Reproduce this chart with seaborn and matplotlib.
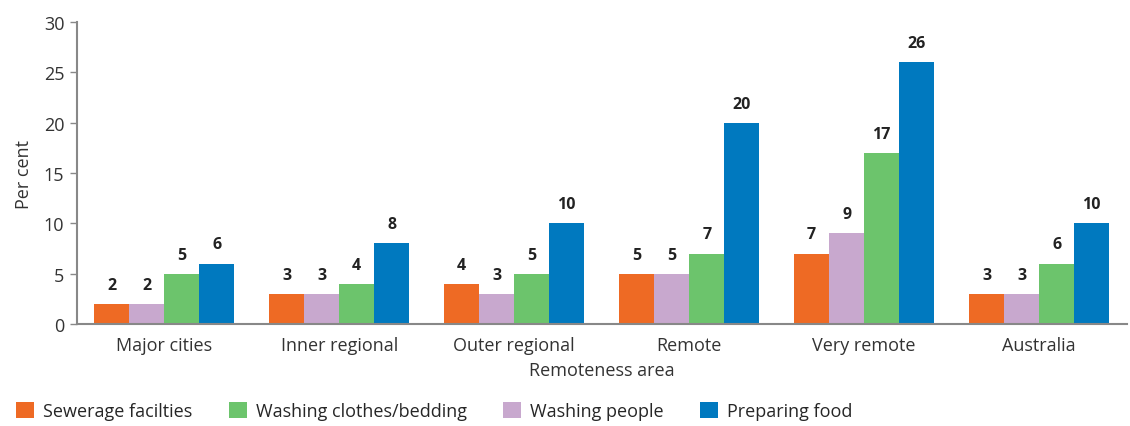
import pandas as pd
import matplotlib
matplotlib.use("Agg")
import matplotlib.pyplot as plt
import seaborn as sns
from matplotlib.patches import Patch

# -----------------------------
# DATA
# -----------------------------
areas = ["Major cities", "Inner regional", "Outer regional", "Remote", "Very remote", "Australia"]
sewerage = [2, 3, 4, 5, 7, 3]
washing_people = [2, 3, 3, 5, 9, 3]
washing_clothes = [5, 4, 5, 7, 17, 6]
preparing_food = [6, 8, 10, 20, 26, 10]

series_names = ["Sewerage facilties", "Washing people", "Washing clothes/bedding", "Preparing food"]
legend_order = ["Sewerage facilties", "Washing clothes/bedding", "Washing people", "Preparing food"]
colors = {
    "Sewerage facilties": "#EE6A24",
    "Washing people": "#C8A8CE",
    "Washing clothes/bedding": "#6CC46C",
    "Preparing food": "#0079BF",
}

df = pd.DataFrame({
    "area": areas * 4,
    "series": sum([[s] * len(areas) for s in series_names], []),
    "value": sewerage + washing_people + washing_clothes + preparing_food,
})

# -----------------------------
# PLOT
# -----------------------------
sns.set_style("white")
plt.rcParams["font.family"] = ["Open Sans", "DejaVu Sans"]

fig = plt.figure(figsize=(11.3, 4.27), dpi=100)
ax = fig.add_axes([0.068, 0.239, 0.929, 0.707])

sns.barplot(data=df, x="area", y="value", hue="series", hue_order=series_names,
            order=areas, palette=colors, width=0.8, saturation=1, linewidth=0,
            ax=ax, legend=False)

for cont in ax.containers:
    ax.bar_label(cont, labels=[f"{v:.0f}" for v in cont.datavalues], padding=8,
                 fontsize=11.5, fontweight="bold", color="#222222")

ax.set_ylim(0, 30)
ax.set_yticks(range(0, 31, 5))
ax.set_xlim(-0.5, len(areas) - 0.5)
ax.tick_params(axis="y", length=5, width=1, color="#888888", labelsize=13, labelcolor="#333333", pad=4, left=True)
ax.tick_params(axis="x", length=0, labelsize=13, labelcolor="#333333", pad=9)
ax.set_xlabel("Remoteness area", fontsize=13, color="#333333", labelpad=5)
ax.set_ylabel("Per cent", fontsize=13, color="#333333", labelpad=8)

for side in ["top", "right"]:
    ax.spines[side].set_visible(False)
for side in ["left", "bottom"]:
    ax.spines[side].set_color("#888888")
    ax.spines[side].set_linewidth(1.5)

handles = [Patch(facecolor=colors[s], edgecolor="none") for s in legend_order]
fig.legend(handles, legend_order, loc="lower left", bbox_to_anchor=(0.0, -0.025), ncol=4,
           frameon=False, fontsize=13, handlelength=1.0, handleheight=1.0,
           handletextpad=0.5, columnspacing=2.0)

fig.savefig("out.png", dpi=100)
